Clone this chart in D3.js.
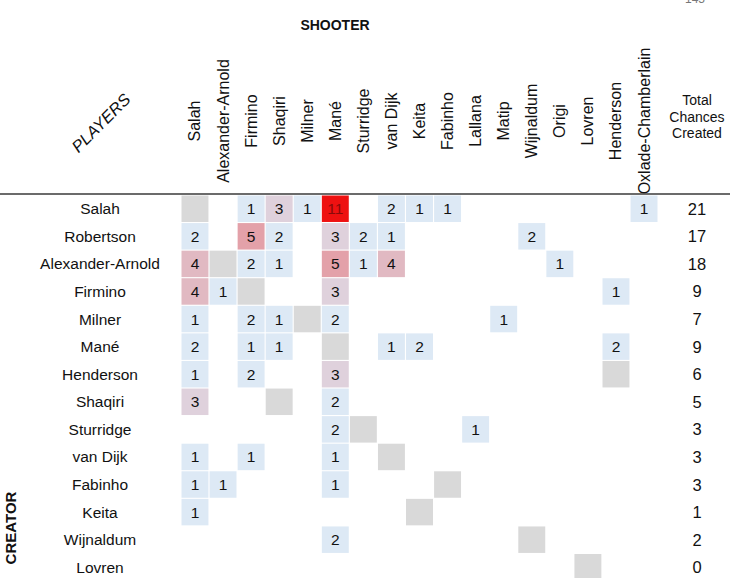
<!DOCTYPE html>
<html>
<head>
<meta charset="utf-8">
<script src="https://cdn.jsdelivr.net/npm/d3@7"></script>
<style>
  body { margin: 0; background: #fff; }
  svg { display: block; font-family: 'Liberation Sans', Arial, sans-serif; }
</style>
</head>
<body>
<div id="chart"></div>
<script>
const shooters = ['Salah', 'Alexander-Arnold', 'Firmino', 'Shaqiri', 'Milner', 'Mané', 'Sturridge',
  'van Dijk', 'Keita', 'Fabinho', 'Lallana', 'Matip', 'Wijnaldum', 'Origi', 'Lovren', 'Henderson',
  'Oxlade-Chamberlain'];

const creators = ['Salah', 'Robertson', 'Alexander-Arnold', 'Firmino', 'Milner', 'Mané', 'Henderson',
  'Shaqiri', 'Sturridge', 'van Dijk', 'Fabinho', 'Keita', 'Wijnaldum', 'Lovren'];

// one row per creator, one value per shooter (0 = no chance)
const chances = [
  [0, 0, 1, 3, 1, 11, 0, 2, 1, 1, 0, 0, 0, 0, 0, 0, 1],
  [2, 0, 5, 2, 0, 3, 2, 1, 0, 0, 0, 0, 2, 0, 0, 0, 0],
  [4, 0, 2, 1, 0, 5, 1, 4, 0, 0, 0, 0, 0, 1, 0, 0, 0],
  [4, 1, 0, 0, 0, 3, 0, 0, 0, 0, 0, 0, 0, 0, 0, 1, 0],
  [1, 0, 2, 1, 0, 2, 0, 0, 0, 0, 0, 1, 0, 0, 0, 0, 0],
  [2, 0, 1, 1, 0, 0, 0, 1, 2, 0, 0, 0, 0, 0, 0, 2, 0],
  [1, 0, 2, 0, 0, 3, 0, 0, 0, 0, 0, 0, 0, 0, 0, 0, 0],
  [3, 0, 0, 0, 0, 2, 0, 0, 0, 0, 0, 0, 0, 0, 0, 0, 0],
  [0, 0, 0, 0, 0, 2, 0, 0, 0, 0, 1, 0, 0, 0, 0, 0, 0],
  [1, 0, 1, 0, 0, 1, 0, 0, 0, 0, 0, 0, 0, 0, 0, 0, 0],
  [1, 1, 0, 0, 0, 1, 0, 0, 0, 0, 0, 0, 0, 0, 0, 0, 0],
  [1, 0, 0, 0, 0, 0, 0, 0, 0, 0, 0, 0, 0, 0, 0, 0, 0],
  [0, 0, 0, 0, 0, 2, 0, 0, 0, 0, 0, 0, 0, 0, 0, 0, 0],
  [0, 0, 0, 0, 0, 0, 0, 0, 0, 0, 0, 0, 0, 0, 0, 0, 0],
];

const totals = [21, 17, 18, 9, 7, 9, 6, 5, 3, 3, 3, 1, 2, 0];
const grandTotal = 145;

class Matrix {
  constructor(target) {
    this.container = target;

    this.setDimensions();
    this.setScales();
    this.drawScene();
  }

  draw() {
    this.drawHeader();
    this.drawCells();
    this.drawRowLabels();
    this.drawTotals();
  }

  setDimensions() {
    this.dimensions = { width: 730, height: 578 };
    this.grid = { left: 181.5, top: 195.5, col: 28, row: 27.5 };
    this.totalX = 697;
  }

  setScales() {
    const { left, top, col, row } = this.grid;

    this.xScale = d3.scaleBand()
      .domain(shooters)
      .range([left, left + col * shooters.length])
      .paddingInner(0.04);

    this.yScale = d3.scaleBand()
      .domain(creators)
      .range([top, top + row * creators.length])
      .paddingInner(0.04);

    this.color = d3.scaleLinear()
      .domain([2, 11])
      .range(['#dde9f5', '#ee1111'])
      .clamp(true);
  }

  drawScene() {
    this.scene = d3.select(this.container)
      .append('svg')
      .attr('width', this.dimensions.width)
      .attr('height', this.dimensions.height);
  }

  drawHeader() {
    const x = this.xScale;

    // grand total, cut off by the top edge as in the source image
    this.scene.append('text')
      .attr('x', this.totalX - 2)
      .attr('y', 3)
      .attr('text-anchor', 'middle')
      .attr('font-size', 12)
      .attr('fill', '#777')
      .text(grandTotal);

    this.scene.append('text')
      .attr('x', 335)
      .attr('y', 30)
      .attr('text-anchor', 'middle')
      .attr('font-size', 14)
      .attr('font-weight', 'bold')
      .attr('fill', '#111')
      .text('SHOOTER');

    this.scene.append('text')
      .attr('transform', 'translate(105, 127) rotate(-45)')
      .attr('text-anchor', 'middle')
      .attr('font-size', 16.5)
      .attr('font-style', 'italic')
      .attr('fill', '#111')
      .text('PLAYERS');

    this.scene.append('g')
      .selectAll('text')
      .data(shooters)
      .join('text')
      .attr('transform', d => `translate(${x(d) + x.bandwidth() / 2 + 5.5}, 121) rotate(-90)`)
      .attr('text-anchor', 'middle')
      .attr('font-size', 16)
      .attr('fill', '#111')
      .text(d => d);

    this.scene.append('text')
      .attr('text-anchor', 'middle')
      .attr('font-size', 14)
      .attr('fill', '#111')
      .selectAll('tspan')
      .data(['Total', 'Chances', 'Created'])
      .join('tspan')
      .attr('x', this.totalX)
      .attr('y', (d, i) => 105 + i * 16.5)
      .text(d => d);

    this.scene.append('line')
      .attr('x1', 0)
      .attr('x2', this.dimensions.width)
      .attr('y1', 194)
      .attr('y2', 194)
      .attr('stroke', '#3a3a3a')
      .attr('stroke-width', 1.5);

    this.scene.append('text')
      .attr('transform', 'translate(16, 528) rotate(-90)')
      .attr('text-anchor', 'middle')
      .attr('font-size', 15)
      .attr('font-weight', 'bold')
      .attr('fill', '#111')
      .text('CREATOR');
  }

  drawCells() {
    const x = this.xScale;
    const y = this.yScale;

    const cells = creators.flatMap((creator, i) => shooters.map((shooter, j) => ({
      creator,
      shooter,
      value: chances[i][j],
      self: creator === shooter,
    }))).filter(d => d.self || d.value > 0);

    const cell = this.scene.append('g')
      .selectAll('g')
      .data(cells)
      .join('g')
      .attr('transform', d => `translate(${x(d.shooter)}, ${y(d.creator)})`);

    cell.append('rect')
      .attr('width', x.bandwidth())
      .attr('height', y.bandwidth())
      .attr('fill', d => (d.self ? '#d9d9d9' : this.color(d.value)));

    cell.filter(d => d.value > 0)
      .append('text')
      .attr('x', x.bandwidth() / 2)
      .attr('y', y.bandwidth() / 2 + 5.5)
      .attr('text-anchor', 'middle')
      .attr('font-size', 15.5)
      .attr('fill', d => (d.value > 8 ? '#8a0a0a' : '#111'))
      .text(d => d.value);
  }

  drawRowLabels() {
    const y = this.yScale;

    this.scene.append('g')
      .selectAll('text')
      .data(creators)
      .join('text')
      .attr('x', 100)
      .attr('y', d => y(d) + y.bandwidth() / 2 + 5.5)
      .attr('text-anchor', 'middle')
      .attr('font-size', 15.5)
      .attr('fill', '#111')
      .text(d => d);
  }

  drawTotals() {
    const y = this.yScale;

    this.scene.append('g')
      .selectAll('text')
      .data(totals)
      .join('text')
      .attr('x', this.totalX)
      .attr('y', (d, i) => y(creators[i]) + y.bandwidth() / 2 + 6)
      .attr('text-anchor', 'middle')
      .attr('font-size', 16.5)
      .attr('fill', '#111')
      .text(d => d);
  }
}

const chart = new Matrix('#chart');
chart.draw();
</script>
</body>
</html>
